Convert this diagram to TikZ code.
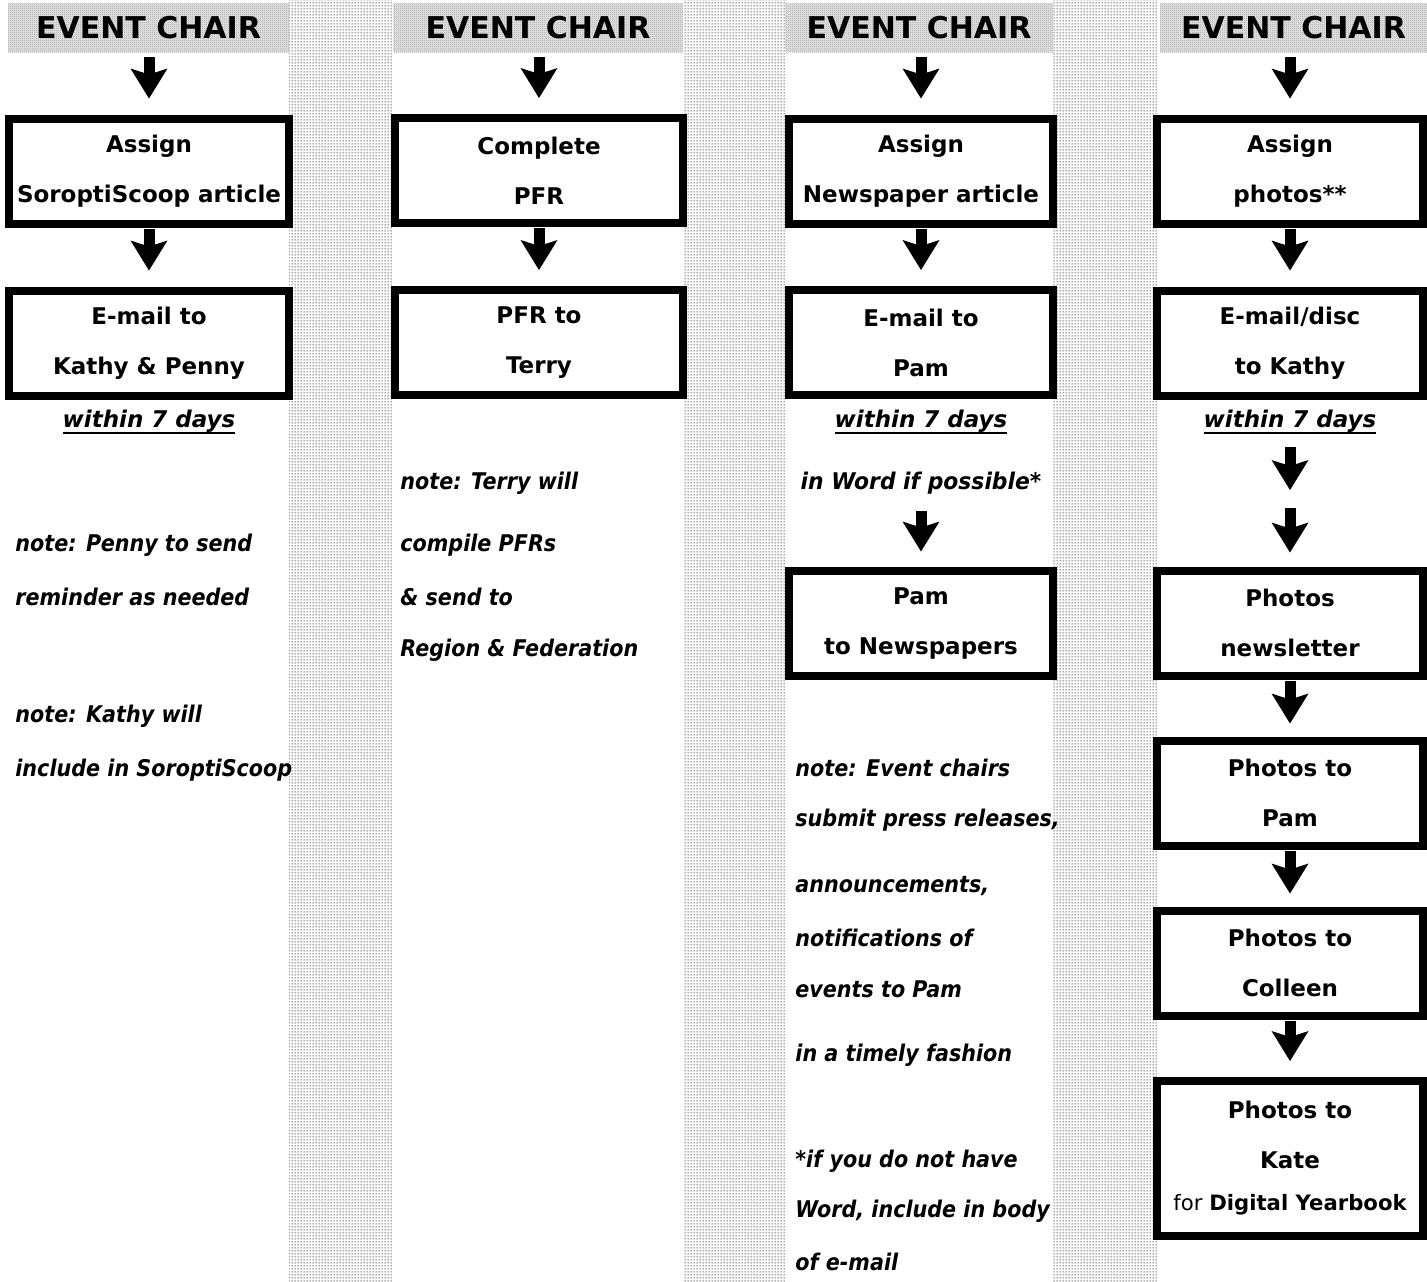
\documentclass[tikz,border=0pt]{standalone}
\usepackage{fontspec}
\setmainfont{DejaVu Sans}
\newfontfamily\notefam[FakeStretch=0.9]{DejaVu Sans}
\newfontfamily\wordfam[FakeStretch=0.95]{DejaVu Sans}
\usetikzlibrary{arrows.meta,patterns}
\pgfdeclarepatternformonly{stripedots}{\pgfqpoint{0pt}{0pt}}{\pgfqpoint{1.5pt}{1.5pt}}{\pgfqpoint{1.5pt}{1.5pt}}{\pgfpathrectangle{\pgfqpoint{0.45pt}{0.45pt}}{\pgfqpoint{0.6pt}{0.6pt}}\pgfusepath{fill}}
\pgfdeclarepatternformonly{headdots}{\pgfqpoint{0pt}{0pt}}{\pgfqpoint{1pt}{1pt}}{\pgfqpoint{1pt}{1pt}}{\pgfpathrectangle{\pgfqpoint{0pt}{0pt}}{\pgfqpoint{0.5pt}{0.5pt}}\pgfpathrectangle{\pgfqpoint{0.5pt}{0.5pt}}{\pgfqpoint{0.5pt}{0.5pt}}\pgfusepath{fill}}
\newcommand\ulx[1]{\setbox0=\hbox{#1}\rlap{\rule[-3.5pt]{\wd0}{1pt}}\box0}
\begin{document}
\begin{tikzpicture}[x=0.5pt,y=-0.5pt,
  stripe/.style={pattern=stripedots,pattern color=black!75},
  hdr/.style={fill=gray!22,postaction={pattern=headdots,pattern color=gray!70},minimum height=24.5pt,inner sep=0pt,font=\fontsize{15}{18}\selectfont\bfseries},
  fbox/.style={draw,line width=4pt,fill=white,inner sep=0pt,align=center,minimum height=52.5pt,font=\fontsize{11.5}{25}\selectfont\bfseries},
  note/.style={inner sep=0pt,text height=9pt,text depth=3pt,anchor=base west,font=\notefam\fontsize{11.5}{14}\selectfont\bfseries\itshape},
  cnote/.style={note,anchor=base},
  bigarrow/.style={line width=5.5pt,-{Stealth[length=15pt,width=18.5pt,inset=3pt,line width=0pt]}}]
\useasboundingbox (0,0) rectangle (1427,1281);
% dotted stripes between the columns
\fill[stripe] (289,0) rectangle (393,1281);
\fill[stripe] (683,0) rectangle (786,1281);
\fill[stripe] (1053,0) rectangle (1157,1281);
% headers
\node[hdr,minimum width=140.5pt] (H1) at (148.5,27.5) {EVENT CHAIR};
\node[hdr,minimum width=145pt] (H2) at (538,27.5) {EVENT CHAIR};
\node[hdr,minimum width=134pt] (H3) at (919,27.5) {EVENT CHAIR};
\node[hdr,minimum width=133.5pt] (H4) at (1293.5,27.5) {EVENT CHAIR};
% column 1
\node[fbox,minimum width=140pt] (A1) at (149,171) {Assign\\SoroptiScoop article};
\node[fbox,minimum width=140pt] (B1) at (149,343) {E-mail to\\Kathy \& Penny};
\node[cnote,font=\fontsize{11.5}{14}\selectfont\bfseries\itshape] (W1) at (149,427) {\ulx{within 7 days}};
\node[note] (N11) at (15,551) {note: Penny to send};
\node[note] (N12) at (15,605) {reminder as needed};
\node[note] (N13) at (15,722) {note: Kathy will};
\node[note] (N14) at (15,776) {include in SoroptiScoop};
% column 2
\node[fbox,minimum width=144pt] (A2) at (539,170.5) {Complete\\PFR};
\node[fbox,minimum width=144pt] (B2) at (539,342.5) {PFR to\\Terry};
\node[note] (N21) at (400,489) {note: Terry will};
\node[note] (N22) at (400,551) {compile PFRs};
\node[note] (N23) at (400,605) {\& send to};
\node[note] (N24) at (400,656) {Region \& Federation};
% column 3
\node[fbox,minimum width=132pt] (A3) at (921,171) {Assign\\Newspaper article};
\node[fbox,minimum width=132pt] (B3) at (921,342.5) {E-mail to\\Pam};
\node[cnote,font=\fontsize{11.5}{14}\selectfont\bfseries\itshape] (W3) at (921,427) {\ulx{within 7 days}};
\node[cnote,font=\wordfam\fontsize{11.5}{14}\selectfont\bfseries\itshape] (P3) at (921,489) {in Word if possible*};
\node[fbox,minimum width=132pt] (C3) at (921,623) {Pam\\to Newspapers};
\node[note] (N31) at (795,776) {note: Event chairs};
\node[note] (N32) at (795,826) {submit press releases,};
\node[note] (N33) at (795,892) {announcements,};
\node[note] (N34) at (795,946) {notifications of};
\node[note] (N35) at (795,997) {events to Pam};
\node[note] (N36) at (795,1061) {in a timely fashion};
\node[note] (N37) at (795,1167) {*if you do not have};
\node[note] (N38) at (795,1217) {Word, include in body};
\node[note] (N39) at (795,1270) {of e-mail};
% column 4
\node[fbox,minimum width=133pt] (A4) at (1290,171) {Assign\\photos**};
\node[fbox,minimum width=133pt] (B4) at (1290,343) {E-mail/disc\\to Kathy};
\node[cnote,font=\fontsize{11.5}{14}\selectfont\bfseries\itshape] (W4) at (1290,427) {\ulx{within 7 days}};
\coordinate (M4) at (1290,499);
\node[fbox,minimum width=133pt] (C4) at (1290,623) {Photos\\newsletter};
\node[fbox,minimum width=133pt] (D4) at (1290,793) {Photos to\\Pam};
\node[fbox,minimum width=133pt] (E4) at (1290,963) {Photos to\\Colleen};
\node[fbox,minimum width=133pt,minimum height=77.5pt] (F4) at (1290,1158.5) {Photos to\\Kate\\[-4pt]{\fontsize{10.6}{12}\selectfont\mdseries for \bfseries Digital Yearbook}};
% arrows
\draw[bigarrow,shorten <=2.5pt,shorten >=8pt] (A1.north |- H1.south) -- (A1.north);
\draw[bigarrow,shorten <=0.5pt,shorten >=8pt] (A1.south) -- (B1.north);
\draw[bigarrow,shorten <=2.5pt,shorten >=8pt] (A2.north |- H2.south) -- (A2.north);
\draw[bigarrow,shorten <=0.5pt,shorten >=8pt] (A2.south) -- (B2.north);
\draw[bigarrow,shorten <=2.5pt,shorten >=8pt] (A3.north |- H3.south) -- (A3.north);
\draw[bigarrow,shorten <=0.5pt,shorten >=8pt] (A3.south) -- (B3.north);
\draw[bigarrow,shorten <=8pt,shorten >=7.5pt] (P3.south) -- (C3.north);
\draw[bigarrow,shorten <=2.5pt,shorten >=8pt] (A4.north |- H4.south) -- (A4.north);
\draw[bigarrow,shorten <=0.5pt,shorten >=8pt] (A4.south) -- (B4.north);
\draw[bigarrow,shorten <=7pt,shorten >=4.5pt] (W4.south) -- (M4);
\draw[bigarrow,shorten <=4.5pt,shorten >=7pt] (M4) -- (C4.north);
\draw[bigarrow,shorten <=0.5pt,shorten >=6.5pt] (C4.south) -- (D4.north);
\draw[bigarrow,shorten <=0.5pt,shorten >=6.5pt] (D4.south) -- (E4.north);
\draw[bigarrow,shorten <=0.5pt,shorten >=8pt] (E4.south) -- (F4.north);
\end{tikzpicture}
\end{document}
